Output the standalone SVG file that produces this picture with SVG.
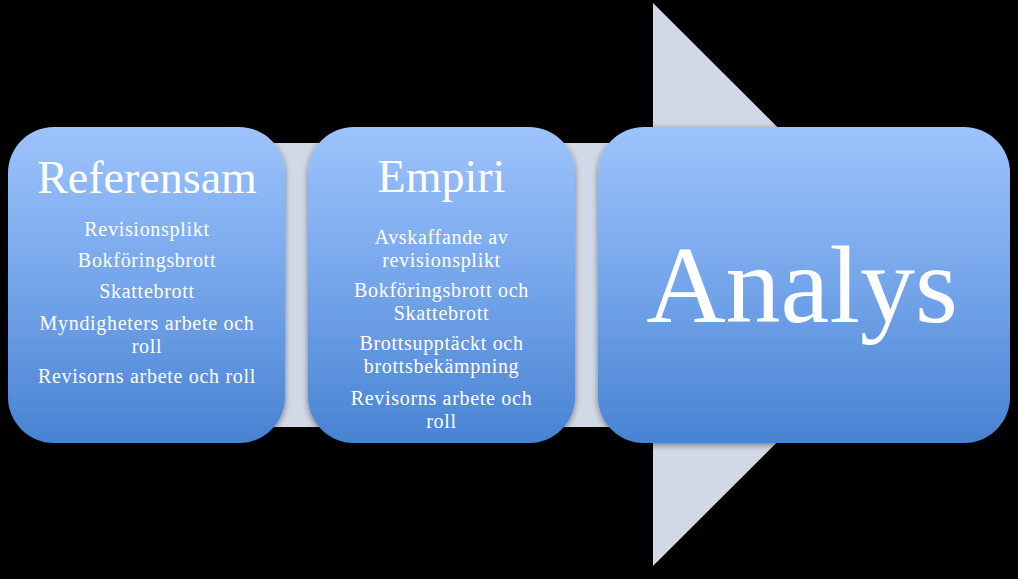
<svg xmlns="http://www.w3.org/2000/svg" width="1018" height="579" viewBox="0 0 1018 579">
<defs>
<linearGradient id="boxGrad" x1="0" y1="0" x2="0" y2="1">
<stop offset="0" stop-color="#9dc3fc"/>
<stop offset="0.5" stop-color="#74a5ea"/>
<stop offset="1" stop-color="#4883d2"/>
</linearGradient>
<filter id="shadow" x="-10%" y="-10%" width="120%" height="125%">
<feGaussianBlur in="SourceAlpha" stdDeviation="3"/>
<feOffset dx="0" dy="2" result="b"/>
<feComponentTransfer><feFuncA type="linear" slope="0.45"/></feComponentTransfer>
<feMerge><feMergeNode/><feMergeNode in="SourceGraphic"/></feMerge>
</filter>
</defs>
<style>
.box{fill:url(#boxGrad);filter:url(#shadow);}
.title{font-family:"Liberation Serif","DejaVu Serif",serif;font-size:46px;fill:#ffffff;text-anchor:middle;}
.body{font-family:"Liberation Serif","DejaVu Serif",serif;font-size:20px;letter-spacing:0.7px;fill:#ffffff;text-anchor:middle;}
.big{font-family:"Liberation Serif","DejaVu Serif",serif;font-size:110px;fill:#ffffff;text-anchor:middle;}
.arrow{fill:#d1d9e6;}
</style>
<rect x="0" y="0" width="1018" height="579" fill="#000000"/>
<g id="connectors">
<path class="arrow" d="M30 143 H653 V3 L935 284.5 L653 566 V427 H30 Z"/>
</g>
<g id="node-referensam">
<rect class="box" x="8" y="127" width="277" height="316" rx="46" ry="46"/>
<text class="title" x="147" y="193">Referensam</text>
<text class="body" x="147" y="236">Revisionsplikt</text>
<text class="body" x="147" y="267">Bokföringsbrott</text>
<text class="body" x="147" y="298">Skattebrott</text>
<text class="body"><tspan x="147" y="329.5">Myndigheters arbete och</tspan><tspan x="147" y="352.5">roll</tspan></text>
<text class="body" x="147" y="383">Revisorns arbete och roll</text>
</g>
<g id="node-empiri">
<rect class="box" x="308" y="127" width="267" height="316" rx="46" ry="46"/>
<text class="title" x="441.5" y="192">Empiri</text>
<text class="body"><tspan x="441.5" y="243.5">Avskaffande av</tspan><tspan x="441.5" y="266.5">revisionsplikt</tspan></text>
<text class="body"><tspan x="441.5" y="296.5">Bokföringsbrott och</tspan><tspan x="441.5" y="319.5">Skattebrott</tspan></text>
<text class="body"><tspan x="441.5" y="349.5">Brottsupptäckt och</tspan><tspan x="441.5" y="372.5">brottsbekämpning</tspan></text>
<text class="body"><tspan x="441.5" y="404.5">Revisorns arbete och</tspan><tspan x="441.5" y="427.5">roll</tspan></text>
</g>
<g id="node-analys">
<rect class="box" x="598" y="127" width="412" height="316" rx="46" ry="46"/>
<text class="big" x="802" y="322">Analys</text>
</g>
</svg>
